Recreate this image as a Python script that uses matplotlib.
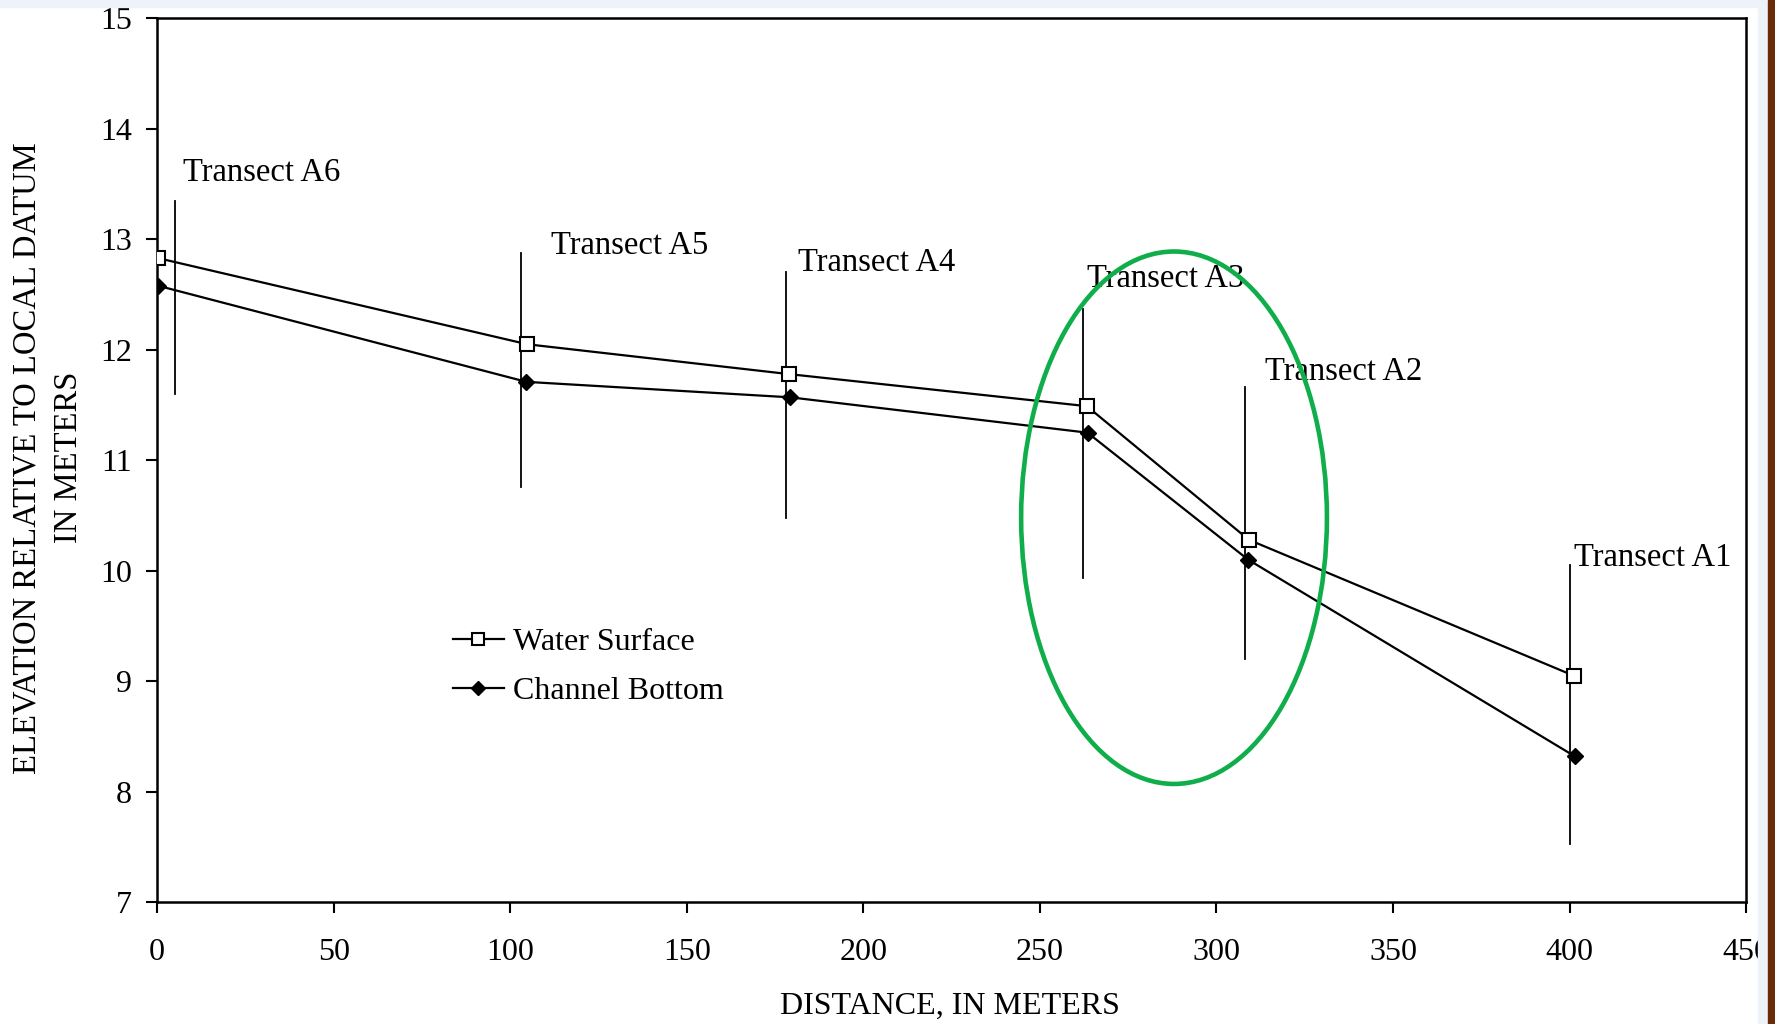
import numpy as np
import matplotlib
matplotlib.use("Agg")
import matplotlib.pyplot as plt
from matplotlib.patches import Ellipse, Rectangle

plt.rcParams['font.family'] = ['Liberation Serif', 'DejaVu Serif']

# distance along reach (m) and elevations (m)
dist_ws = [0.3, 104.9, 179.0, 263.3, 309.2, 401.2]
water_surface = [12.83, 12.05, 11.78, 11.49, 10.28, 9.05]
dist_cb = [0.3, 104.6, 179.3, 263.5, 309.0, 401.5]
channel_bottom = [12.58, 11.71, 11.57, 11.25, 10.10, 8.32]

# transect marker lines
transect_names = ['Transect A6', 'Transect A5', 'Transect A4',
                  'Transect A3', 'Transect A2', 'Transect A1']
transect_x = [5.1, 103.0, 178.0, 262.3, 308.0, 400.0]
transect_top = [13.35, 12.88, 12.70, 12.37, 11.66, 10.05]
transect_bot = [11.60, 10.76, 10.48, 9.93, 9.20, 7.53]
# label anchor (left, centre) for each transect name
label_x = [7.4, 111.6, 181.5, 263.3, 313.7, 401.2]
label_y = [13.60, 12.94, 12.79, 12.64, 11.80, 10.12]

fig = plt.figure(figsize=(17.75, 10.24), dpi=100)
ax = fig.add_axes([0.0885, 0.119, 0.8952, 0.863])

ax.plot(dist_ws, water_surface, color='k', lw=1.6, marker='s', ms=10.5,
        mfc='white', mec='k', mew=1.5, label='Water Surface', zorder=3)
ax.plot(dist_cb, channel_bottom, color='k', lw=1.6, marker='D', ms=8.5,
        mfc='k', mec='k', label='Channel Bottom', zorder=3)

for i in range(len(transect_x)):
    ax.plot([transect_x[i], transect_x[i]], [transect_bot[i], transect_top[i]],
            color='k', lw=1.3, zorder=2)
    ax.text(label_x[i], label_y[i], transect_names[i], fontsize=23.5,
            ha='left', va='center')

# highlight around the steep section
ax.add_patch(Ellipse((288, 10.48), 86.6, 4.82, fill=False,
                     edgecolor='#0fae4b', lw=3.3, zorder=4))

ax.set_xlim(0, 450)
ax.set_ylim(7, 15)
ax.set_xticks(np.arange(0, 451, 50))
ax.set_yticks(np.arange(7, 16, 1))
ax.tick_params(direction='out', length=8, width=1.5, labelsize=23, pad=10)
ax.tick_params(axis='x', pad=18)
for s in ax.spines.values():
    s.set_linewidth(1.8)

leg = ax.legend(loc='center left', bbox_to_anchor=(0.186, 0.266), frameon=False,
                fontsize=23, handlelength=1.6, handletextpad=0.28,
                labelspacing=0.6, markerscale=0.8, borderaxespad=0,
                borderpad=0)

fig.text(0.535, 0.017, 'DISTANCE, IN METERS', fontsize=23, ha='center', va='center')
fig.text(0.0152, 0.553, 'ELEVATION RELATIVE TO LOCAL DATUM', fontsize=23.5,
         rotation=90, ha='center', va='center')
fig.text(0.0385, 0.553, 'IN METERS', fontsize=23.5, rotation=90,
         ha='center', va='center')

# scan / screenshot edges
fig.patches.append(Rectangle((0, 0.993), 1, 0.007, transform=fig.transFigure,
                             color='#eef3fb', zorder=5))
fig.patches.append(Rectangle((0.9905, 0), 0.0055, 1, transform=fig.transFigure,
                             color='#eef3fb', zorder=5))
fig.patches.append(Rectangle((0.996, 0), 0.004, 1, transform=fig.transFigure,
                             color='#6b2a08', zorder=5))

fig.savefig('out.png', dpi=100)
